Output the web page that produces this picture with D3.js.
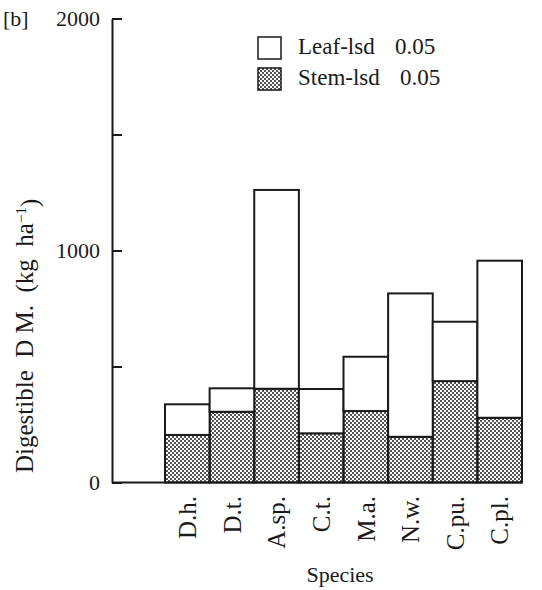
<!DOCTYPE html>
<html>
<head>
<meta charset="utf-8">
<script src="https://cdn.jsdelivr.net/npm/d3@7"></script>
<style>
  body { margin: 0; background: #fff; }
  svg { display: block; }
  text { font-family: "Liberation Serif", "DejaVu Serif", serif; fill: #1a1a1a; }
</style>
</head>
<body>
<div id="chart"></div>
<script>
// data (kg ha-1)
const species = ["D.h.", "D.t.", "A.sp.", "C.t.", "M.a.", "N.w.", "C.pu.", "C.pl."];
const stem = [205, 305, 404, 212, 308, 197, 437, 279];
const leaf = [132, 101, 857, 191, 234, 618, 256, 677];
const yTicks = [0, 500, 1000, 1500, 2000];
const yLabelled = [0, 1000, 2000];
const legendNames = ["Leaf-lsd", "Stem-lsd"];
const legendLsd = ["0.05", "0.05"];

const width = 542, height = 590;
const ink = "#1a1a1a";

const svg = d3.select("#chart")
  .append("svg")
    .attr("width", width)
    .attr("height", height);

// dotted fill for the stem part
svg.append("defs").append("pattern")
    .attr("id", "dots")
    .attr("patternUnits", "userSpaceOnUse")
    .attr("width", 4)
    .attr("height", 4)
  .selectAll("circle")
  .data([[1, 1], [3, 3]])
  .join("circle")
    .attr("cx", d => d[0])
    .attr("cy", d => d[1])
    .attr("r", 1)
    .attr("fill", ink);

const axisX = 112;
const x = d3.scaleBand().domain(species).range([165, 522]).padding(0);
const y = d3.scaleLinear().domain([0, 2000]).range([482.5, 18.5]);

const rows = species.map((s, i) => ({ name: s, stem: stem[i], leaf: leaf[i] }));
const stack = d3.stack().keys(["stem", "leaf"])(rows);

// bars
svg.append("g")
  .selectAll("g")
  .data(stack)
  .join("g")
    .attr("fill", d => d.key === "stem" ? "url(#dots)" : "#fff")
  .selectAll("rect")
  .data(d => d)
  .join("rect")
    .attr("x", d => x(d.data.name))
    .attr("width", x.bandwidth())
    .attr("y", d => y(d[1]))
    .attr("height", d => y(d[0]) - y(d[1]))
    .attr("stroke", ink)
    .attr("stroke-width", 2);

// baseline from the y axis to the last bar
svg.append("line")
    .attr("x1", axisX)
    .attr("x2", x.range()[1])
    .attr("y1", y(0))
    .attr("y2", y(0))
    .attr("stroke", ink)
    .attr("stroke-width", 2);

// y axis, ticks pointing inward
const yAxis = svg.append("g")
    .attr("transform", `translate(${axisX},0)`)
    .call(d3.axisLeft(y)
      .tickValues(yTicks)
      .tickSizeInner(-10)
      .tickSizeOuter(0)
      .tickPadding(12)
      .tickFormat(d => yLabelled.includes(d) ? d : ""));
yAxis.select(".domain").attr("stroke", ink).attr("stroke-width", 2);
yAxis.selectAll(".tick line").attr("stroke", ink).attr("stroke-width", 2);
yAxis.selectAll(".tick text")
    .style("font-size", "22px")
    .style("font-family", "Liberation Serif, serif")
    .attr("fill", ink);

// species labels, rotated
svg.append("g")
  .selectAll("text")
  .data(species)
  .join("text")
    .attr("transform", d => `translate(${x(d) + x.bandwidth() / 2},496) rotate(-90)`)
    .attr("text-anchor", "end")
    .attr("dy", "0.35em")
    .style("font-size", "25px")
    .text(d => d);

svg.append("text")
    .attr("x", 340)
    .attr("y", 582)
    .attr("text-anchor", "middle")
    .style("font-size", "22px")
    .text("Species");

// y title
const yTitle = svg.append("text")
    .attr("transform", "translate(33,473) rotate(-90)")
    .style("font-size", "25px")
    .style("white-space", "pre");
yTitle.append("tspan").text("Digestible  D M.  (kg  ha");
yTitle.append("tspan").attr("dy", "-0.45em").style("font-size", "15px").text("−1");
yTitle.append("tspan").attr("dy", "0.45em").text(")");

// panel tag
svg.append("text")
    .attr("x", 3)
    .attr("y", 26)
    .style("font-size", "22px")
    .text("[b]");

// legend
const legend = svg.append("g")
  .selectAll("g")
  .data(legendNames)
  .join("g")
    .attr("transform", (d, i) => `translate(258,${37 + i * 31})`);
legend.append("rect")
    .attr("width", 23)
    .attr("height", 22)
    .attr("fill", (d, i) => i === 0 ? "#fff" : "url(#dots)")
    .attr("stroke", ink)
    .attr("stroke-width", 1.5);
legend.append("text")
    .attr("x", 40)
    .attr("y", 17)
    .style("font-size", "23px")
    .text(d => d);
legend.append("text")
    .attr("x", (d, i) => i === 0 ? 137 : 142)
    .attr("y", 17)
    .style("font-size", "23px")
    .text((d, i) => legendLsd[i]);
</script>
</body>
</html>
